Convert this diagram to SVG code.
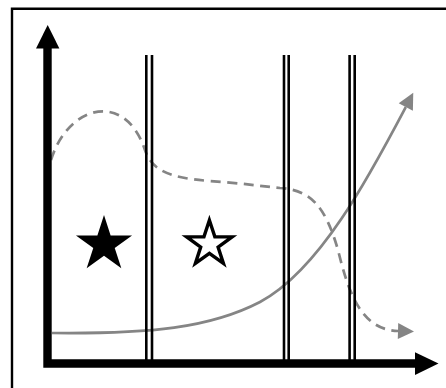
<svg xmlns="http://www.w3.org/2000/svg" width="446" height="388" viewBox="0 0 446 388">
  <style>
    .frame{fill:none;stroke:#000;stroke-width:2.4}
    .axis{fill:none;stroke:#000;stroke-width:8.4}
    .wall{fill:none;stroke:#000;stroke-width:2.6}
    .curve{fill:none;stroke:#858585;stroke-width:2.7}
    .dash{stroke-dasharray:10 6.5}
  </style>
  <defs>
    <marker id="ga" markerUnits="userSpaceOnUse" markerWidth="17" markerHeight="16" refX="0" refY="8" orient="auto" overflow="visible">
      <path d="M0,0 L16,8 L0,16 z" fill="#858585"/>
    </marker>
  </defs>
  <rect width="446" height="388" fill="#fff"/>
  <path class="frame" d="M12,400 V8.7 H460"/>

  <g id="connectors">
    <path id="solid-curve" class="curve" marker-end="url(#ga)" d="M52,333 C150,334 210,328 260,302 C320,270 370,175 405.8,107"/>
    <path id="dashed-curve" class="curve dash" marker-end="url(#ga)" d="M51,160 C68,105 125,90 145,150 C152,171 170,178 210,181 C240,183 260,186 280,188 C310,190 325,205 338,250 C348,290 360,330 398,331"/>
  </g>

  <g id="walls">
    <g id="wall1"><line class="wall" x1="146.3" y1="55" x2="146.3" y2="360"/><line class="wall" x1="152" y1="55" x2="152" y2="360"/></g>
    <g id="wall2"><line class="wall" x1="284" y1="55" x2="284" y2="360"/><line class="wall" x1="288.7" y1="55" x2="288.7" y2="360"/></g>
    <g id="wall3"><line class="wall" x1="349.6" y1="55" x2="349.6" y2="360"/><line class="wall" x1="354.7" y1="55" x2="354.7" y2="360"/></g>
  </g>

  <g id="axes">
    <path class="axis" d="M47.5,47 V363.5 H416" stroke-linejoin="miter"/>
    <polygon points="47.7,25 36,48.5 59.4,48.5" fill="#000"/>
    <polygon points="438.5,363.5 415,352.2 415,375" fill="#000"/>
  </g>

  <g id="filled-star">
    <polygon fill="#000" points="104,215 110.62,235.38 132.06,235.38 114.72,247.98 121.34,268.37 104,255.77 86.66,268.37 93.28,247.98 75.94,235.38 97.38,235.38"/>
  </g>
  <g id="outline-star">
    <polygon fill="#fff" stroke="#000" stroke-width="3.4" stroke-linejoin="miter" points="209.4,220.3 214.85,236.9 232.1,236.9 218.1,247.1 223.4,263.4 209.4,253.3 195.4,263.4 200.7,247.1 186.7,236.9 203.95,236.9"/>
  </g>
</svg>
